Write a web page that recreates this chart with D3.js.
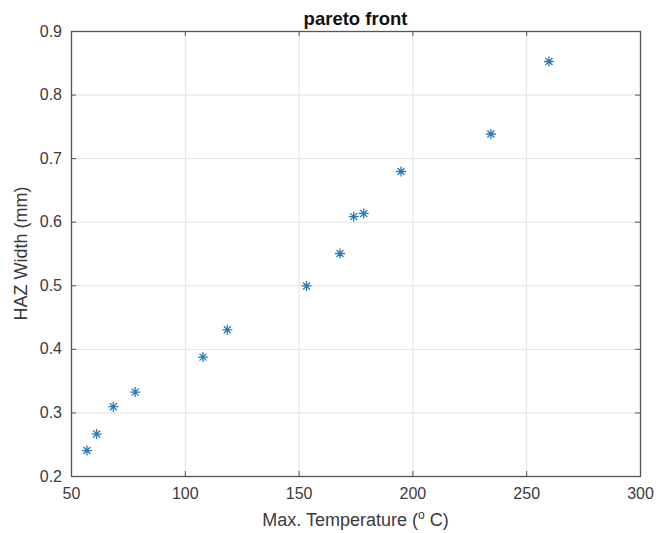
<!DOCTYPE html>
<html>
<head>
<meta charset="utf-8">
<script src="https://cdn.jsdelivr.net/npm/d3@7"></script>
<style>
	body { margin: 0; background: #fff; }
	svg { display: block; font-family: "Liberation Sans", Arial, sans-serif; }
</style>
</head>
<body>
<svg id="canvas" width="665" height="533"></svg>
<script>
// pareto front points
var maxTemp = [57, 61.3, 68.6, 78.2, 108, 118.7, 153.5, 168.2, 174.2, 178.6, 195, 234.5, 260];
var hazWidth = [0.240, 0.266, 0.309, 0.332, 0.387, 0.430, 0.499, 0.550, 0.608, 0.613, 0.679, 0.738, 0.852];
var xTicks = [50, 100, 150, 200, 250, 300];
var yTicks = [0.2, 0.3, 0.4, 0.5, 0.6, 0.7, 0.8, 0.9];

const svg = d3.select("#canvas");
const plotLeft = 71, plotRight = 640, plotTop = 31, plotBottom = 476;

const x = d3.scaleLinear().domain([50, 300]).range([plotLeft, plotRight]);
const y = d3.scaleLinear().domain([0.2, 0.9]).range([plotBottom, plotTop]);

// grid
const grid = svg.append("g").attr("stroke", "#e3e3e3").attr("stroke-width", 1);
grid.selectAll(".gx").data(xTicks.slice(1, -1)).join("line")
	.attr("x1", d => x(d) + 0.5).attr("x2", d => x(d) + 0.5)
	.attr("y1", plotTop).attr("y2", plotBottom);
grid.selectAll(".gy").data(yTicks.slice(1, -1)).join("line")
	.attr("y1", d => y(d) + 0.5).attr("y2", d => y(d) + 0.5)
	.attr("x1", plotLeft).attr("x2", plotRight);

// axes, MATLAB style with inward ticks
const axisColor = "#555";
function styleAxis(g) {
	g.select(".domain").remove();
	g.selectAll(".tick line").attr("stroke", axisColor);
	g.selectAll(".tick text").attr("fill", "#3a3a3a").attr("font-size", 16);
}
svg.append("g").attr("transform", `translate(0,${plotBottom})`)
	.call(d3.axisBottom(x).tickValues(xTicks).tickSizeInner(-5).tickPadding(12).tickFormat(d3.format("d")))
	.call(styleAxis);
svg.append("g").attr("transform", `translate(0,${plotTop})`)
	.call(d3.axisTop(x).tickValues(xTicks).tickSizeInner(-5).tickFormat(""))
	.call(styleAxis);
svg.append("g").attr("transform", `translate(${plotLeft},0)`)
	.call(d3.axisLeft(y).tickValues(yTicks).tickSizeInner(-5).tickPadding(9).tickFormat(d3.format(".1f")))
	.call(styleAxis);
svg.append("g").attr("transform", `translate(${plotRight},0)`)
	.call(d3.axisRight(y).tickValues(yTicks).tickSizeInner(-5).tickFormat(""))
	.call(styleAxis);

// box
svg.append("rect")
	.attr("x", plotLeft + 0.5).attr("y", plotTop + 0.5)
	.attr("width", plotRight - plotLeft).attr("height", plotBottom - plotTop)
	.attr("fill", "none").attr("stroke", axisColor).attr("stroke-width", 1.3);

// star markers
const star = svg.append("g").attr("stroke", "#2a7ab8").attr("stroke-width", 1.3).attr("fill", "none");
const pts = maxTemp.map((t, i) => [t, hazWidth[i]]);
const r = 5;
star.selectAll("path").data(pts).join("path")
	.attr("d", d => {
		const cx = x(d[0]), cy = y(d[1]), k = r * 0.7;
		return `M${cx - r},${cy}H${cx + r}M${cx},${cy - r}V${cy + r}` +
			`M${cx - k},${cy - k}L${cx + k},${cy + k}M${cx - k},${cy + k}L${cx + k},${cy - k}`;
	});

// labels
svg.append("text")
	.attr("x", (plotLeft + plotRight) / 2).attr("y", plotTop - 6)
	.attr("text-anchor", "middle").attr("font-size", 18.5).attr("font-weight", "bold")
	.attr("fill", "#111")
	.text("pareto front");

const xl = svg.append("text")
	.attr("x", (plotLeft + plotRight) / 2).attr("y", plotBottom + 50)
	.attr("text-anchor", "middle").attr("font-size", 18).attr("fill", "#3a3a3a");
xl.append("tspan").text("Max. Temperature (");
xl.append("tspan").attr("font-size", 12).attr("dy", -7).text("o");
xl.append("tspan").attr("dy", 7).text(" C)");

svg.append("text")
	.attr("transform", `translate(${plotLeft - 44},${(plotTop + plotBottom) / 2}) rotate(-90)`)
	.attr("text-anchor", "middle").attr("font-size", 18).attr("fill", "#3a3a3a")
	.text("HAZ Width (mm)");
</script>
</body>
</html>
